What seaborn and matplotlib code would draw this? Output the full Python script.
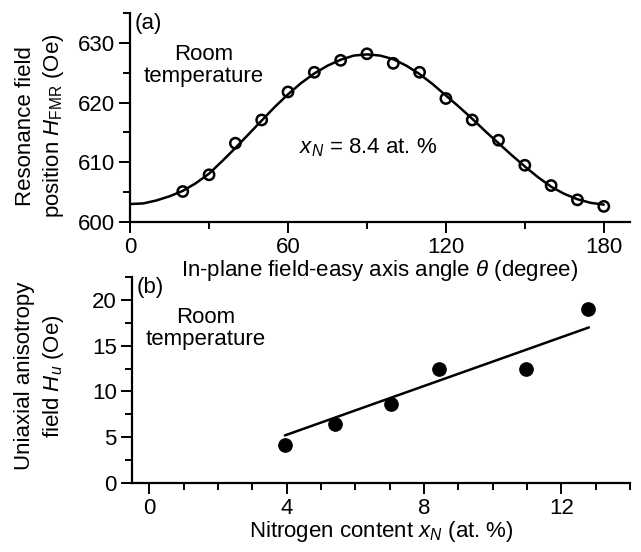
import numpy as np
import pandas as pd
import matplotlib
matplotlib.use("Agg")
import matplotlib.pyplot as plt
from matplotlib.ticker import MultipleLocator
import seaborn as sns

# (a) resonance field vs angle, x_N = 8.4 at.%
theta_pts = [20, 30, 40, 50, 60, 70, 80, 90, 100, 110, 120, 130, 140, 150, 160, 170, 180]
h_fmr_pts = [605.1, 607.9, 613.2, 617.1, 621.8, 625.1, 627.1, 628.2, 626.6, 625.1,
             620.7, 617.1, 613.7, 609.5, 606.1, 603.7, 602.6]

# fitted curve
theta_fit = [0, 5, 10, 15, 20, 25, 30, 35, 40, 45, 50, 55, 60, 65, 70, 75, 80, 85, 90,
             95, 100, 105, 110, 115, 120, 125, 130, 135, 140, 145, 150, 155, 160, 165,
             170, 175, 180]
h_fmr_fit = [603.0, 603.1, 603.6, 604.3, 605.2, 606.5, 608.1, 610.2, 612.4, 614.7,
             617.0, 619.3, 621.4, 623.3, 624.9, 626.2, 627.2, 627.9, 628.1, 627.9,
             627.3, 626.2, 624.8, 623.1, 621.2, 619.3, 617.3, 615.2, 613.2, 611.2,
             609.3, 607.5, 605.9, 604.7, 603.8, 603.2, 602.9]

# (b) anisotropy field vs nitrogen content
xn_pts = [3.95, 5.42, 7.03, 8.44, 10.97, 12.78]
hu_pts = [4.1, 6.5, 8.6, 12.5, 12.5, 19.0]
xn_fit = [3.95, 12.8]
hu_fit = [5.2, 17.0]

sns.set_style("ticks")
plt.rcParams["font.family"] = ["Liberation Sans", "DejaVu Sans"]
plt.rcParams["mathtext.fontset"] = "custom"
plt.rcParams["mathtext.rm"] = "Liberation Sans"
plt.rcParams["mathtext.it"] = "Liberation Sans:italic"
plt.rcParams["mathtext.default"] = "regular"
plt.rcParams["text.color"] = "black"
plt.rcParams["axes.labelcolor"] = "black"

fs = 16
fig = plt.figure(figsize=(6.41, 5.52), dpi=100)
ax1 = fig.add_axes([0.203, 0.598, 0.780, 0.378])
ax2 = fig.add_axes([0.206, 0.125, 0.777, 0.373])

df_a = pd.DataFrame({"theta": theta_pts, "H": h_fmr_pts})
df_af = pd.DataFrame({"theta": theta_fit, "H": h_fmr_fit})
sns.lineplot(data=df_af, x="theta", y="H", ax=ax1, color="black", lw=1.8)
sns.scatterplot(data=df_a, x="theta", y="H", ax=ax1, marker="o", s=55,
                facecolor="none", edgecolor="black", linewidth=1.8, zorder=3)

df_b = pd.DataFrame({"xn": xn_pts, "Hu": hu_pts})
df_bf = pd.DataFrame({"xn": xn_fit, "Hu": hu_fit})
sns.lineplot(data=df_bf, x="xn", y="Hu", ax=ax2, color="black", lw=1.8)
sns.scatterplot(data=df_b, x="xn", y="Hu", ax=ax2, marker="o", s=95,
                color="black", edgecolor="black", zorder=3)

ax1.set_xlim(0, 190)
ax1.set_ylim(600, 635)
ax1.xaxis.set_major_locator(MultipleLocator(60))
ax1.xaxis.set_minor_locator(MultipleLocator(30))
ax1.yaxis.set_major_locator(MultipleLocator(10))
ax1.yaxis.set_minor_locator(MultipleLocator(5))

ax2.set_xlim(-0.5, 14)
ax2.set_ylim(0, 22.5)
ax2.xaxis.set_major_locator(MultipleLocator(4))
ax2.xaxis.set_minor_locator(MultipleLocator(1))
ax2.yaxis.set_major_locator(MultipleLocator(5))
ax2.yaxis.set_minor_locator(MultipleLocator(2.5))

for ax in (ax1, ax2):
    sns.despine(ax=ax)
    for s in ("left", "bottom"):
        ax.spines[s].set_linewidth(1.6)
        ax.spines[s].set_color("black")
    ax.tick_params(which="major", length=8, width=1.4, labelsize=fs, colors="black", pad=3)
    ax.tick_params(which="minor", length=5, width=1.4, colors="black")
    ax.patch.set_alpha(0)

ax1.set_xlabel(r"In-plane field-easy axis angle $\mathit{\theta}$ (degree)", fontsize=fs,
               labelpad=0)
ax1.set_ylabel("Resonance field\nposition $\\mathit{H}_{\\rm FMR}$ (Oe)", fontsize=fs,
               linespacing=1.3)
ax2.set_xlabel(r"Nitrogen content $\mathit{x_N}$ (at. %)", fontsize=fs, labelpad=0)
ax2.set_ylabel("Uniaxial anisotropy\nfield $\\mathit{H_u}$ (Oe)", fontsize=fs,
               linespacing=1.3)
ax1.yaxis.set_label_coords(-0.128, 0.46)
ax2.yaxis.set_label_coords(-0.133, 0.52)

ax1.text(0.01, 1.0, "(a)", transform=ax1.transAxes, fontsize=fs, va="top")
ax2.text(0.01, 1.0, "(b)", transform=ax2.transAxes, fontsize=fs, va="top")
ax1.text(28, 626.3, "Room\ntemperature", fontsize=fs, ha="center", va="center",
         linespacing=1.05)
ax2.text(1.64, 16.9, "Room\ntemperature", fontsize=fs, ha="center", va="center",
         linespacing=1.05)
ax1.text(64, 612.5, r"$\mathit{x_N}$ = 8.4 at. %", fontsize=fs, ha="left", va="center")

fig.savefig("out.png", dpi=100, facecolor="white")
